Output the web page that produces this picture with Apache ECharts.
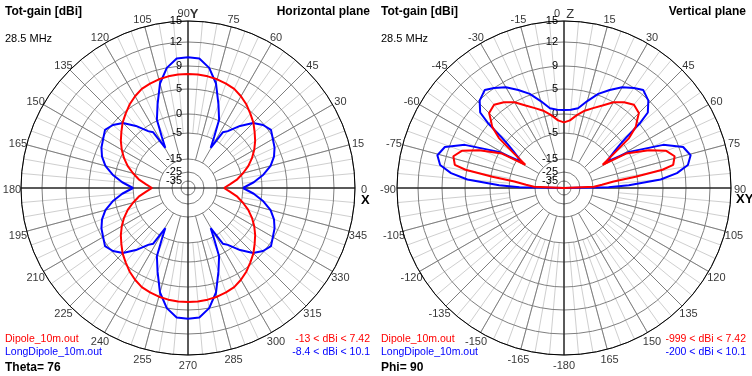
<!DOCTYPE html>
<html>
<head>
<meta charset="utf-8">
<title>Tot-gain polar plots</title>
<script src="https://cdn.jsdelivr.net/npm/echarts@6/dist/echarts.min.js"></script>
<style>
  html, body { margin: 0; padding: 0; background: #fff; }
  #chart { width: 752px; height: 376px; }
</style>
</head>
<body>
<div id="chart"></div>
<script>
// ring labels of the gain scale [dBi]
const ringLabels = [15, 12, 9, 5, 0, -5, -15, -25, -35];

// angle tick labels round each plot
const hTickAngles = [0, 15, 30, 45, 60, 75, 90, 105, 120, 135, 150, 165, 180, 195, 210, 225, 240, 255, 270, 285, 300, 315, 330, 345];
const hTickLabels = ['0', '15', '30', '45', '60', '75', '90{a|Y}', '105', '120', '135', '150', '165', '180', '195', '210', '225', '240', '255', '270', '285', '300', '315', '330', '345'];
const vTickAngles = [0, 15, 30, 45, 60, 75, 90, 105, 120, 135, 150, 165, 180, 195, 210, 225, 240, 255, 270, 285, 300, 315, 330, 345];
const vTickLabels = ['0  {b|Z}', '15', '30', '45', '60', '75', '90', '105', '120', '135', '150', '165', '-180', '-165', '-150', '-135', '-120', '-105', '-90', '-75', '-60', '-45', '-30', '-15'];

// horizontal plane (Theta = 76), one quadrant, angle from the X axis [deg] / gain [dBi]
const hDipoleAngles = [0, 5, 10, 15, 20, 25, 30, 35, 40, 45, 50, 55, 60, 65, 70, 75, 80, 85, 90];
const hDipole = [-12.3, -10, -6.9, -4.5, -2.6, -0.9, 0.5, 1.6, 2.6, 3.7, 4.6, 5.5, 6.2, 6.8, 7.1, 7.35, 7.5, 7.6, 7.6];
const hLongAngles = [0, 5, 10, 15, 20, 25, 30, 35, 40, 45, 50, 55, 58, 60.5, 63, 65.5, 70, 75, 80, 85, 90];
const hLongDipole = [-5.0, -2.1, 0.5, 2.3, 3.5, 4.3, 4.8, 5.4, 4.8, 3.6, 1.4, -1.2, -2.2, -8.4, -4.2, 0.2, 3.0, 6.6, 9.0, 10.0, 10.1];

// vertical plane (Phi = 90), right half, angle from zenith [deg] / gain [dBi]
const vDipoleAngles = [0, 5, 10, 15, 20, 25, 30, 35, 40, 45, 47, 49.5, 52.5, 55, 59, 61, 66, 70, 74, 78, 79.5, 81, 82.5, 85, 87.5, 90];
const vDipole = [-2.2, -1.6, 0, 1.2, 2.2, 3.4, 5.0, 6.0, 6.7, 6.2, 5.2, 4.1, 1.6, -2.9, -8.8, -0.8, 3.8, 6.7, 7.8, 7.2, 5.2, -0.4, -6.9, -11.5, -14.6, -999];
const vLongAngles = [0, 5, 10, 15, 20, 25, 30, 35, 39, 44, 48, 49.5, 51, 52, 54, 58.5, 61, 66.5, 71, 75.5, 79.5, 82.5, 85, 87.5, 89, 90];
const vLongDipole = [0.8, 0.9, 1.4, 3.2, 5.2, 6.6, 8.0, 9.0, 9.5, 8.9, 7.4, 5.2, 1.2, -0.5, -3.0, -7.0, 0.1, 6.6, 9.5, 10.1, 9.5, 7.6, 4.6, -2.4, -9, -200];

// radius in px of each ring on the log-like gain scale (outer ring = 15 dBi)
const ringRadius = [167, 146, 122, 99, 74, 55, 29, 16, 7];
const R = 167;
const LABEL_R = 176;
const FONT = '"Liberation Sans", Arial, sans-serif';
const RED = '#ff0000';
const BLUE = '#0000ff';

function gainToR(db) {
    if (db >= ringLabels[0]) return ringRadius[0];
    for (let i = 1; i < ringLabels.length; i += 1) {
        if (db >= ringLabels[i]) {
            const t = (db - ringLabels[i]) / (ringLabels[i - 1] - ringLabels[i]);
            return ringRadius[i] + t * (ringRadius[i - 1] - ringRadius[i]);
        }
    }
    // below the last ring the trace runs into the centre
    const last = ringRadius.length - 1;
    return Math.max(0, ringRadius[last] * (db - ringLabels[last] + 10) / 10);
}

function ringLabel(r) {
    const i = ringRadius.indexOf(r);
    return i < 0 ? '' : String(ringLabels[i]);
}

// echarts drops an end label that overlaps its neighbour, so the -25 ring
// goes first and the two close inner labels are not both at one end
const ringTicks = [ringRadius[ringRadius.length - 2]]
    .concat(ringRadius.filter((r, i) => i !== ringRadius.length - 2));

// the horizontal-plane angle axis runs 90..450
const wrapH = a => (a < 90 ? a + 360 : a);

// horizontal plane is symmetric about both axes
function fullCircle(angles, gains) {
    const pts = [];
    angles.forEach((a, i) => pts.push([gains[i], a]));
    for (let i = angles.length - 1; i >= 0; i -= 1) pts.push([gains[i], 180 - angles[i]]);
    angles.forEach((a, i) => pts.push([gains[i], 180 + angles[i]]));
    for (let i = angles.length - 1; i >= 0; i -= 1) pts.push([gains[i], 360 - angles[i]]);
    return pts.map(p => [gainToR(p[0]), wrapH(p[1])]);
}

// vertical plane is symmetric about the zenith
function upperHalf(angles, gains) {
    const pts = [];
    for (let i = angles.length - 1; i >= 0; i -= 1) pts.push([gains[i], 360 - angles[i]]);
    angles.forEach((a, i) => pts.push([gains[i], a]));
    return pts.map(p => [gainToR(p[0]), p[1]]);
}

function buildPlot(idx, cx, angleMin, clockwise) {
    const base = idx * 4;
    const center = [cx, 188];
    const polar = [
        { center, radius: [55, R] },
        { center, radius: [29, R] },
        { center, radius: [0, R] },
        { center, radius: [0, LABEL_R] }
    ];
    const hiddenRadius = (i, max) => ({ polarIndex: i, type: 'value', min: 0, max, show: false });
    const angleBase = {
        type: 'value', min: angleMin, max: angleMin + 360, startAngle: 90, clockwise,
        axisLine: { show: false }, axisTick: { show: false }, axisLabel: { show: false }
    };
    const angleAxis = [
        Object.assign({}, angleBase, {
            polarIndex: base, interval: 5, z: 0,
            splitLine: { show: true, lineStyle: { color: '#cfcfcf', width: 1 } }
        }),
        Object.assign({}, angleBase, {
            polarIndex: base + 1, interval: 15, z: 1,
            splitLine: { show: true, lineStyle: { color: '#7f7f7f', width: 1 } }
        }),
        Object.assign({}, angleBase, {
            polarIndex: base + 2, interval: 90, z: 3,
            axisLine: { show: true, lineStyle: { color: '#000', width: 1 } },
            splitLine: { show: true, lineStyle: { color: '#000', width: 1 } }
        }),
        Object.assign({}, angleBase, { polarIndex: base + 3, interval: 15, show: false })
    ];
    const radiusAxis = [
        hiddenRadius(base, 1),
        hiddenRadius(base + 1, 1),
        {
            polarIndex: base + 2, type: 'value', min: 0, max: R, z: 2,
            axisLine: { show: false },
            axisTick: { show: false, customValues: ringTicks },
            axisLabel: {
                show: true, customValues: ringTicks, formatter: ringLabel,
                hideOverlap: false, showMinLabel: true, showMaxLabel: true,
                color: '#000', fontSize: 11, fontFamily: FONT, margin: 6
            },
            splitLine: { show: true, lineStyle: { color: '#7f7f7f', width: 1 } }
        },
        hiddenRadius(base + 3, LABEL_R)
    ];
    return { polar, angleAxis, radiusAxis };
}

const left = buildPlot(0, 188, 90, false);
const right = buildPlot(1, 564, 0, true);

function trace(polarIndex, data, color) {
    return {
        type: 'line', coordinateSystem: 'polar', polarIndex, data,
        symbol: 'none', silent: true, z: 5, animation: false, clip: false,
        lineStyle: { color, width: 2 }, itemStyle: { color }
    };
}

// angle labels are centred on a circle just outside the plot
function tickLabels(polarIndex, angles, labels, wrap) {
    return {
        type: 'scatter', coordinateSystem: 'polar', polarIndex, silent: true, clip: false,
        symbolSize: 1, itemStyle: { color: 'rgba(0,0,0,0)' }, z: 6,
        data: angles.map((a, i) => ({ name: labels[i], value: [LABEL_R, wrap(a)] })),
        label: {
            show: true, position: 'inside', offset: [0, 2], formatter: '{b}',
            color: '#000', fontSize: 11, fontFamily: FONT,
            rich: {
                a: { fontSize: 13, fontWeight: 'bold', fontFamily: FONT, color: '#000' },
                b: { fontSize: 13, fontFamily: FONT, color: '#000' }
            }
        }
    };
}

function txt(x, y, text, opts) {
    return {
        type: 'text', x, y, silent: true, z: 10,
        style: Object.assign({
            text, fill: '#000', font: '10.5px ' + FONT, align: 'left', verticalAlign: 'middle'
        }, opts || {})
    };
}

const bold = 'bold 12px ' + FONT;
const graphic = [];
[[0, 'Horizontal plane', 'Theta= 76', '-13 < dBi < 7.42', '-8.4 < dBi < 10.1'],
 [376, 'Vertical plane', 'Phi= 90', '-999 < dBi < 7.42', '-200 < dBi < 10.1']].forEach(p => {
    const dx = p[0];
    graphic.push(txt(dx + 5, 11.5, 'Tot-gain [dBi]', { font: bold }));
    graphic.push(txt(dx + 370, 11.5, p[1], { font: bold, align: 'right' }));
    graphic.push(txt(dx + 5, 39, '28.5 MHz', { font: '11px ' + FONT }));
    graphic.push(txt(dx + 5, 339.5, 'Dipole_10m.out', { fill: RED }));
    graphic.push(txt(dx + 5, 352.5, 'LongDipole_10m.out', { fill: BLUE }));
    graphic.push(txt(dx + 5, 367.5, p[2], { font: bold }));
    graphic.push(txt(dx + 370, 339.5, p[3], { fill: RED, align: 'right' }));
    graphic.push(txt(dx + 370, 352.5, p[4], { fill: BLUE, align: 'right' }));
});
graphic.push(txt(361, 200, 'X', { font: 'bold 13px ' + FONT }));
graphic.push(txt(736, 199.5, 'XY', { font: 'bold 13px ' + FONT }));

const chart = echarts.init(document.getElementById('chart'), null, { renderer: 'canvas' });
chart.setOption({
    backgroundColor: '#ffffff',
    animation: false,
    polar: left.polar.concat(right.polar),
    angleAxis: left.angleAxis.concat(right.angleAxis),
    radiusAxis: left.radiusAxis.concat(right.radiusAxis),
    series: [
        trace(2, fullCircle(hLongAngles, hLongDipole), BLUE),
        trace(2, fullCircle(hDipoleAngles, hDipole), RED),
        trace(6, upperHalf(vLongAngles, vLongDipole), BLUE),
        trace(6, upperHalf(vDipoleAngles, vDipole), RED),
        tickLabels(3, hTickAngles, hTickLabels, wrapH),
        tickLabels(7, vTickAngles, vTickLabels, a => a)
    ],
    graphic
});
</script>
</body>
</html>
